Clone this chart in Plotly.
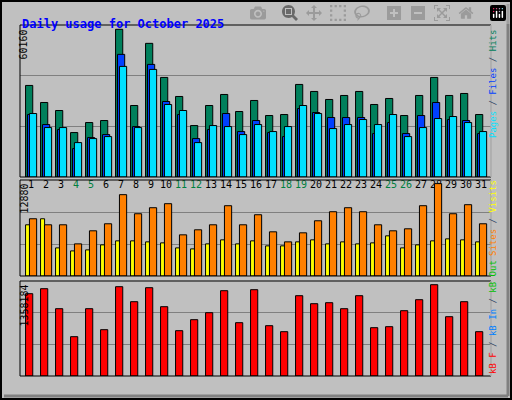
import plotly.graph_objects as go

days = list(range(1, 32))
weekend = [4, 5, 11, 12, 18, 19, 25, 26]

hits = [37291, 30350, 27084, 18101, 22184, 23001, 60160, 29125, 54440, 40558,
        32800, 20959, 29125, 33617, 26676, 31167, 25042, 25451, 37700, 34842,
        31575, 33208, 34842, 29534, 31984, 25042, 33208, 40558, 33208, 34025, 25451]
files = [25451, 21368, 19326, 11569, 16060, 17285, 49949, 20551, 45866, 30759,
         25451, 15652, 19326, 25859, 18510, 23001, 18101, 16468, 27901, 26267,
         24226, 24226, 24226, 17693, 22184, 17693, 25042, 30350, 23409, 23001, 17693]
pages = [25859, 20143, 20143, 14018, 15652, 16468, 45049, 20143, 43824, 29534,
         27084, 14018, 20959, 20551, 17285, 21368, 18510, 20551, 29125, 25859,
         19735, 21368, 23409, 21368, 25451, 16468, 20143, 23818, 24634, 22184, 18510]
visits = [7140, 7980, 3920, 3500, 3640, 4340, 4900, 4900, 4760, 4620,
          3920, 3780, 4480, 5040, 4480, 4900, 4200, 4200, 4760, 5040,
          4480, 4760, 4480, 4620, 5600, 3920, 4340, 4900, 5180, 5040, 4760]
sites = [7980, 7140, 7140, 4480, 6300, 7280, 11340, 8680, 9520, 10080,
         5740, 6440, 7140, 9800, 7140, 8540, 6160, 4760, 6020, 7700,
         8960, 9520, 8960, 7140, 6300, 6580, 9800, 12880, 8680, 9940, 7280]
kbytes = [1224379, 1298734, 1001314, 584926, 1001314, 689023, 1328476, 1105411,
          1313605, 1031056, 674152, 837733, 941830, 1268992, 793120, 1283863,
          748507, 659281, 1194637, 1075669, 1090540, 1001314, 1194637, 718765,
          733636, 971572, 1135153, 1358184, 882346, 1105411, 659281]

BG = "#c0c0c0"
MONO = "DejaVu Sans Mono"
L, R, T, B = 20, 21, 25, 24
PW, PH = 512 - L - R, 400 - T - B


def px(x):
    return (x - L) / PW


def py(y):
    return (400 - B - y) / PH


def bars(y, color, offset, width, axis):
    return go.Bar(x=days, y=y, marker=dict(color=color, line=dict(color="black", width=1)),
                  offset=offset, width=width, xaxis="x", yaxis=axis, hoverinfo="skip")


fig = go.Figure()
fig.add_trace(bars(hits, "#00805c", -0.36, 0.48, "y"))
fig.add_trace(bars(files, "#0040ff", -0.23, 0.48, "y"))
fig.add_trace(bars(pages, "#00e0ff", -0.10, 0.48, "y"))
fig.add_trace(bars(visits, "#ffff00", -0.36, 0.27, "y2"))
fig.add_trace(bars(sites, "#ff8000", -0.10, 0.48, "y2"))
fig.add_trace(bars(kbytes, "#ff0000", -0.36, 0.48, "y3"))

ticktext = [f"<span style='color:{'#008040' if d in weekend else 'black'}'>{d}</span>" for d in days]


def yax(top, dom):
    return dict(range=[0, top], domain=dom, tickvals=[top / 3, 2 * top / 3], showticklabels=False,
                showgrid=True, gridcolor="#808080", gridwidth=1, zeroline=False, fixedrange=True)


fig.update_layout(
    width=512, height=400, paper_bgcolor=BG, plot_bgcolor=BG, showlegend=False,
    barmode="overlay", margin=dict(l=L, r=R, t=T, b=B),
    xaxis=dict(range=[0.27, 31.67], tickvals=days, ticktext=ticktext, showgrid=False,
               ticks="", tickfont=dict(family=MONO, size=10), zeroline=False),
    yaxis=yax(61914, [py(177), 1]),
    yaxis2=yax(13384, [py(276), py(180)]),
    yaxis3=yax(1413200, [0, py(281)]),
)

# panel frames and outer frame
for y0, y1 in [(25, 177), (180, 276), (281, 376)]:
    fig.add_shape(type="rect", xref="paper", yref="paper", x0=0, x1=1, y0=py(y1), y1=py(y0),
                  line=dict(color="black", width=1))
    fig.add_shape(type="line", xref="paper", yref="paper", x0=1, x1=1, y0=py(y1), y1=py(y0),
                  line=dict(color="white", width=1))
fig.add_shape(type="rect", xref="paper", yref="paper", x0=px(1), x1=px(511), y0=py(399), y1=py(1),
              line=dict(color="black", width=2))
fig.add_shape(type="line", xref="paper", yref="paper", x0=px(508), x1=px(508), y0=py(396), y1=py(4),
              line=dict(color="#808080", width=3))
fig.add_shape(type="line", xref="paper", yref="paper", x0=px(4), x1=px(508), y0=py(396), y1=py(396),
              line=dict(color="#808080", width=3))

ann = [
    dict(x=px(20), y=py(15), text="<b>Daily usage for October 2025</b>", xanchor="left",
         font=dict(family=MONO, size=12, color="#0000ff")),
    dict(x=px(16), y=py(28), text="60160", textangle=-90, yanchor="top",
         font=dict(family=MONO, size=10, color="black")),
    dict(x=px(16), y=py(182), text="12880", textangle=-90, yanchor="top",
         font=dict(family=MONO, size=10, color="black")),
    dict(x=px(16), y=py(283), text="1358184", textangle=-90, yanchor="top",
         font=dict(family=MONO, size=10, color="black")),
    dict(x=px(500), y=py(28), yanchor="top", textangle=-90, font=dict(family=MONO, size=9),
         text="<span style='color:#00e0ff'>Pages</span> / <span style='color:#0040ff'>Files</span>"
              " / <span style='color:#00805c'>Hits</span>"),
    dict(x=px(500), y=py(178), yanchor="top", textangle=-90, font=dict(family=MONO, size=9),
         text="<span style='color:#ff8000'>Sites</span> / <span style='color:#ffff00'>Visits</span>"),
    dict(x=px(500), y=py(376), yanchor="bottom", textangle=-90, font=dict(family=MONO, size=9),
         text="<span style='color:#ff0000'>kB F</span> / <span style='color:#0080ff'>kB In</span>"
              " / <span style='color:#00c000'>kB Out</span>"),
]
for a in ann:
    a.update(xref="paper", yref="paper", showarrow=False)
fig.update_layout(annotations=ann)

# remove the browser's default body margin so the figure sits at the window corner
fig.write_html("out.html", post_script="document.body.style.margin='0';")
